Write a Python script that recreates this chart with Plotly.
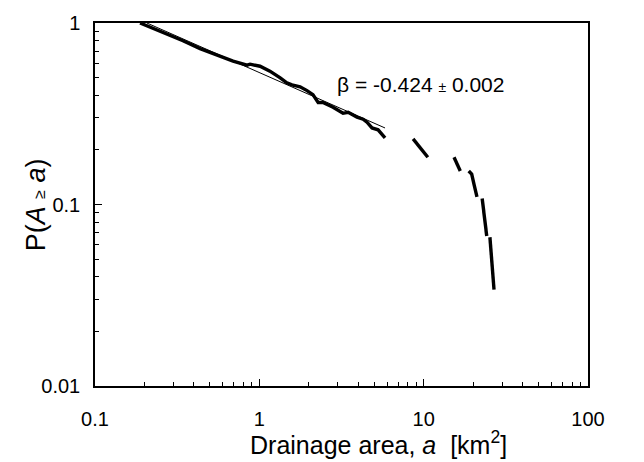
import math
import plotly.graph_objects as go

# Cumulative distribution of drainage areas; None = gap in the trace
area_km2 = [0.188, 0.216, 0.274, 0.343, 0.436, 0.553, 0.692, 0.842, 0.878, 1.01, 1.16, 1.34,
            1.47, 1.58, 1.77, 1.95, 2.12, 2.28, 2.44, 2.81, 3.23, 3.47, 3.93, 4.28, 4.52,
            4.85, 5.28, 5.82,
            None, 8.62, 9.6, 10.6,
            None, 15.3, 16.7,
            None, 18.8, 19.6, 20.3, 21.1,
            None, 22.7, 23.4, 24.2,
            None, 25.3, 26.0, 26.8]
prob_exceed = [1.0, 0.951, 0.872, 0.799, 0.723, 0.663, 0.616, 0.586, 0.593, 0.578, 0.543, 0.498,
               0.468, 0.456, 0.445, 0.424, 0.403, 0.365, 0.365, 0.343, 0.318, 0.322, 0.303, 0.295, 0.284,
               0.264, 0.258, 0.233,
               None, 0.230, 0.205, 0.182,
               None, 0.182, 0.153,
               None, 0.153, 0.147, 0.128, 0.110,
               None, 0.108, 0.086, 0.067,
               None, 0.066, 0.048, 0.034]

# Power-law fit line endpoints
fit_area = [0.207, 5.82]
fit_prob = [1.0, 0.264]

fit_label = "β = -0.424 <span style='font-size:14px'>±</span> 0.002"
fit_label_pos = (9.6, 0.456)

x_title = "Drainage area, <i>a</i>  [km<sup>2</sup>]"
y_title = "P(<i>A</i> <span style='font-size:16px'>≥</span> <i>a</i>)"

font_family = "Liberation Sans, Arial, sans-serif"

fig = go.Figure()
fig.add_trace(go.Scatter(x=fit_area, y=fit_prob, mode="lines",
                         line=dict(color="black", width=1), showlegend=False, hoverinfo="skip"))
fig.add_trace(go.Scatter(x=area_km2, y=prob_exceed, mode="lines", connectgaps=False,
                         line=dict(color="black", width=3.4), showlegend=False))

fig.add_annotation(x=math.log10(fit_label_pos[0]), y=math.log10(fit_label_pos[1]),
                   xref="x", yref="y", text=fit_label, showarrow=False,
                   font=dict(family=font_family, size=21, color="black"))

# Axis titles (placed as in the reference, slightly off-centre for the x title)
fig.add_annotation(x=0.575, y=-0.158, xref="paper", yref="paper", text=x_title,
                   showarrow=False, xanchor="center", yanchor="middle",
                   font=dict(family=font_family, size=25, color="black"))
fig.add_annotation(x=-0.12, y=0.5, xref="paper", yref="paper", text=y_title,
                   showarrow=False, xanchor="center", yanchor="middle", textangle=-90,
                   font=dict(family=font_family, size=27, color="black"))

axis_common = dict(
    type="log", showgrid=False, zeroline=False, showline=True, linecolor="black",
    linewidth=1.5, mirror=True, ticks="inside", ticklen=7, tickwidth=1.2, tickcolor="black",
    dtick=1, tickfont=dict(family=font_family, size=20, color="black"),
    minor=dict(ticks="inside", ticklen=4, tickwidth=1, tickcolor="black", showgrid=False),
)

fig.update_xaxes(range=[-1, 2], ticklabelstandoff=14, **axis_common)
fig.update_yaxes(range=[-2, 0], ticklabelstandoff=9, **axis_common)

fig.update_layout(width=644, height=462, margin=dict(l=95, r=56, t=16, b=76),
                  plot_bgcolor="white", paper_bgcolor="white",
                  font=dict(family=font_family, color="black"))

fig.write_html("out.html")
